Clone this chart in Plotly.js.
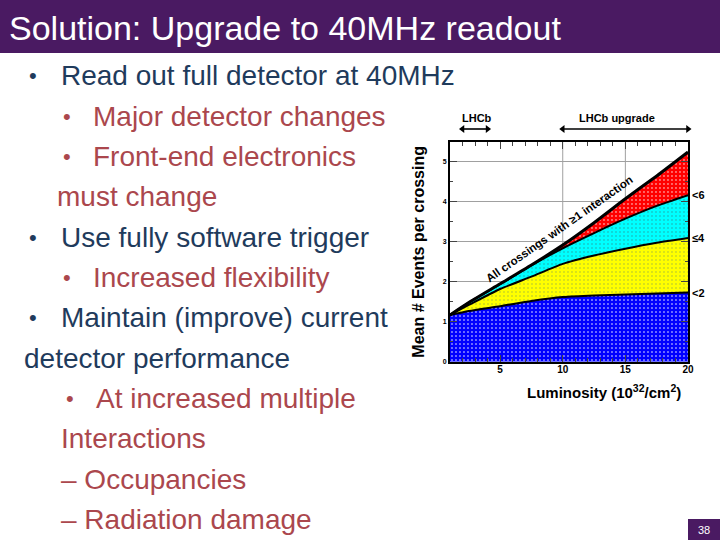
<!DOCTYPE html>
<html>
<head>
<meta charset="utf-8">
<script src="https://cdn.plot.ly/plotly-3.0.1.min.js"></script>
<style>html,body{margin:0;padding:0;background:#fff;}#chart{width:720px;height:540px;}</style>
</head>
<body>
<div id="chart"></div>
<script>
// ---- data ----
const lumi   = [1, 2.5, 5, 7.5, 10, 12.5, 15, 17.5, 20];
const evLt2  = [1.17, 1.27, 1.39, 1.52, 1.62, 1.66, 1.68, 1.71, 1.73];
const evLe4  = [1.17, 1.42, 1.82, 2.13, 2.45, 2.66, 2.83, 2.98, 3.10];
const evLt6  = [1.17, 1.48, 1.94, 2.41, 2.84, 3.22, 3.58, 3.90, 4.17];
const evAll  = [1.17, 1.48, 1.95, 2.42, 2.92, 3.48, 4.08, 4.65, 5.25];
const bandLabels = ["<2", "≤4", "<6"];
const xTicks = [5, 10, 15, 20];
const yTicks = [0, 1, 2, 3, 4, 5];
const gridX = [10, 15];
const lhcbRange = [2, 4];
const upgradeRange = [10, 20];
const slideTitle = "Solution: Upgrade to 40MHz readout";
const bodyLines = ["Read out full detector at 40MHz", "Major detector changes", "Front-end electronics",
  "must change", "Use fully software trigger", "Increased flexibility", "Maintain (improve) current",
  "detector performance", "At increased multiple", "Interactions", "– Occupancies", "– Radiation damage"];
const bodyLevels = [1, 2, 2, 2, 1, 2, 1, 1, 2, 2, 2, 2];
const bodyBullet = [true, true, true, false, true, true, true, false, true, false, false, false];
const pageNumber = "38";

// ---- styling / positions ----
const W = 720, H = 540;
const px = v => v / W, py = v => 1 - v / H;
const NAVY = "#1f3b5c", RED = "#ab474d", PURPLE = "#4a1a62";
const FONT = "Liberation Sans, Arial, sans-serif";
const textX = [[27, 59], [61, 91], [61, 91], [null, 55], [27, 59], [61, 91], [27, 59], [null, 22], [64, 94], [null, 59], [null, 59], [null, 59]];

function band(y, fill, fg, name, fillMode, sol) {
  return {
    x: lumi, y: y, type: "scatter", mode: "lines", name: name,
    line: {color: "black", width: 2, shape: "spline", smoothing: 0.6},
    fill: fillMode, fillcolor: fill,
    fillpattern: {shape: ".", bgcolor: fill, fgcolor: fg, size: 4, solidity: sol, fillmode: "replace"},
    hoverinfo: "skip", showlegend: false
  };
}
const traces = [
  band(evLt2, "#0000ff", "#ffffff", "<2", "tozeroy", 0.12),
  band(evLe4, "#ffff00", "#8fa84a", "≤4", "tonexty", 0.08),
  band(evLt6, "#00ffff", "#2a8f8f", "<6", "tonexty", 0.08),
  band(evAll, "#ff0000", "#ffffff", "all", "tonexty", 0.1)
];
traces[3].line.width = 3;
// range arrows of LHCb / LHCb upgrade, drawn on a thin helper axis above the plot
[lhcbRange, upgradeRange].forEach(r => {
  traces.push({
    x: r, y: [0.5, 0.5], xaxis: "x", yaxis: "y2", type: "scatter", mode: "lines+markers", cliponaxis: false,
    line: {color: "#000", width: 1.6},
    marker: {symbol: ["triangle-left", "triangle-right"], size: 7, color: "#000"},
    hoverinfo: "skip", showlegend: false
  });
});

const annotations = [];
// slide title
annotations.push({xref: "paper", yref: "paper", x: px(7), y: py(28), xanchor: "left", yanchor: "middle",
  text: slideTitle, showarrow: false, font: {family: FONT, size: 34, color: "#ffffff"}});
// body text
const lineY0 = 76, lineStep = 40.3;
bodyLines.forEach((t, i) => {
  const col = bodyLevels[i] === 1 ? NAVY : RED;
  const yy = lineY0 + i * lineStep;
  if (bodyBullet[i]) {
    annotations.push({xref: "paper", yref: "paper", x: px(textX[i][0]), y: py(yy), xanchor: "left", yanchor: "middle",
      text: "•", showarrow: false, font: {family: FONT, size: 22, color: col}});
  }
  annotations.push({xref: "paper", yref: "paper", x: px(textX[i][1]), y: py(yy), xanchor: "left", yanchor: "middle",
    text: t, showarrow: false, font: {family: FONT, size: 28, color: col}});
});
// page number
annotations.push({xref: "paper", yref: "paper", x: px(704), y: py(529.5), xanchor: "center", yanchor: "middle",
  text: pageNumber, showarrow: false, font: {family: FONT, size: 11, color: "#ffffff"}});
// band labels on right
[evLt2, evLe4, evLt6].forEach((arr, i) => {
  annotations.push({xref: "paper", yref: "y", x: px(690), y: arr[arr.length - 1], xanchor: "left", yanchor: "middle",
    text: bandLabels[i], showarrow: false, font: {family: FONT, size: 11, color: "#000", weight: "bold"}});
});
// rotated label
annotations.push({xref: "x", yref: "y", x: 9.7, y: 3.33, text: "All crossings with ≥1 interaction", showarrow: false,
  textangle: -35, font: {family: FONT, size: 11.5, color: "#000", weight: "bold"}});
// LHCb labels
annotations.push({xref: "paper", yref: "paper", x: px(477), y: py(118), xanchor: "center", yanchor: "middle",
  text: "LHCb", showarrow: false, font: {family: FONT, size: 11, color: "#000", weight: "bold"}});
annotations.push({xref: "paper", yref: "paper", x: px(617), y: py(118), xanchor: "center", yanchor: "middle",
  text: "LHCb upgrade", showarrow: false, font: {family: FONT, size: 11, color: "#000", weight: "bold"}});
// x-axis title
annotations.push({xref: "paper", yref: "paper", x: px(604), y: py(391), xanchor: "center", yanchor: "middle",
  text: "Luminosity (10<sup>32</sup>/cm<sup>2</sup>)", showarrow: false,
  font: {family: FONT, size: 15, color: "#000", weight: "bold"}});

const shapes = [
  {type: "rect", xref: "paper", yref: "paper", x0: 0, x1: 1, y0: py(53), y1: 1, fillcolor: PURPLE, line: {width: 0}, layer: "below"},
  {type: "rect", xref: "paper", yref: "paper", x0: px(688), x1: 1, y0: 0, y1: py(519), fillcolor: PURPLE, line: {width: 0}, layer: "below"}
];
gridX.forEach(g => shapes.push({type: "line", xref: "x", yref: "paper", x0: g, x1: g, y0: py(361.7), y1: py(142),
  line: {color: "#a0a0a0", width: 1}, layer: "below"}));

const layout = {
  width: W, height: H,
  margin: {l: 0, r: 0, t: 0, b: 0},
  paper_bgcolor: "#ffffff", plot_bgcolor: "#ffffff",
  showlegend: false,
  font: {family: FONT},
  xaxis: {
    domain: [px(450), px(688)], range: [1, 20], tickvals: xTicks, ticks: "inside", ticklen: 7,
    showline: true, linewidth: 2, linecolor: "#000", mirror: "ticks", showgrid: false, zeroline: false,
    ticklabelstandoff: -3,
    tickfont: {family: FONT, size: 10, color: "#000", weight: "bold"},
    minor: {ticks: "inside", ticklen: 4, dtick: 1, tick0: 0, showgrid: false}
  },
  yaxis: {
    domain: [py(361.7), py(142)], range: [0, 5.5], tickvals: yTicks, ticks: "inside", ticklen: 7,
    showline: true, linewidth: 2, linecolor: "#000", mirror: "ticks", showgrid: true, gridcolor: "#a0a0a0",
    zeroline: false,
    tickfont: {family: FONT, size: 7, color: "#000", weight: "bold"},
    minor: {ticks: "inside", ticklen: 3, dtick: 0.5, tick0: 0, showgrid: false},
    title: {text: "Mean # Events per crossing", standoff: 14, font: {family: FONT, size: 16, color: "#000", weight: "bold"}}
  },
  yaxis2: {
    domain: [py(134), py(124)], range: [0, 1], visible: false, fixedrange: true
  },
  annotations: annotations,
  shapes: shapes
};
Plotly.newPlot("chart", traces, layout, {staticPlot: true, displayModeBar: false});
</script>
</body>
</html>
